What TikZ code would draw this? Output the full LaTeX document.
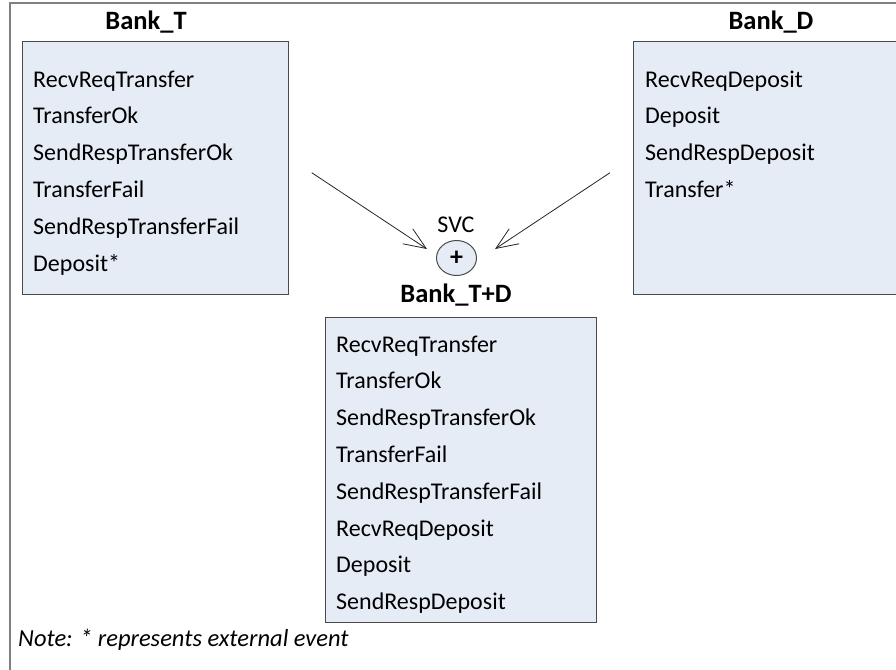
\documentclass[tikz,border=0pt]{standalone}
\usepackage{fontspec}
\setmainfont{Carlito}
\usepackage{tikz}
\usetikzlibrary{shapes.geometric,arrows.meta,positioning,calc}
\definecolor{frame}{HTML}{808080}
\definecolor{edge}{HTML}{4a4a4a}
\definecolor{boxfill}{HTML}{E6ECF6}

\begin{document}
\begin{tikzpicture}[x=1pt,y=-1pt,
    txt/.style={font=\fontsize{24}{29}\selectfont,inner sep=0pt},
    item/.style={txt,anchor=base west},
    title/.style={txt,font=\fontsize{26.5}{31}\selectfont\bfseries,anchor=base},
    panel/.style={draw=edge,fill=boxfill,line width=1pt},
    flow/.style={draw=black!85,line width=0.8pt,
                 -{Straight Barb[length=22pt,width=18pt,line width=0.8pt]}}]
    \useasboundingbox (0,0) rectangle (896,669);
    \draw[frame,line width=1.5pt] (10,3) rectangle (910,690);

    % Bank_T
    \draw[panel] (22,42) rectangle (288,294);
    \node[title] (bankT) at (146,30) {Bank\_T};
    \foreach \ev [count=\i] in {RecvReqTransfer,TransferOk,SendRespTransferOk,
                                TransferFail,SendRespTransferFail,Deposit*}
        \node[item] (t\i) at (33,{87+36.8*(\i-1)}) {\ev};

    % Bank_D
    \draw[panel] (633,42) rectangle (900,294);
    \node[title] (bankD) at (771,30) {Bank\_D};
    \foreach \ev [count=\i] in {RecvReqDeposit,Deposit,SendRespDeposit,Transfer*}
        \node[item] (d\i) at (645,{87+36.8*(\i-1)}) {\ev};

    % composition
    \node[txt,anchor=base] (svclbl) at (456,232) {SVC};
    \node[draw=edge,fill=boxfill,line width=1pt,ellipse,minimum width=40pt,
          minimum height=35pt,inner sep=0pt,font=\fontsize{26}{30}\selectfont\bfseries]
          (svc) at (456.5,258) {+};
    \coordinate (fromT) at (311.7,172.7);
    \coordinate (fromD) at (610,172.7);
    \coordinate (toT) at (427,249);
    \coordinate (toD) at (495,249);
    \draw[flow] (fromT) -- (toT);
    \draw[flow] (fromD) -- (toD);

    % Bank_T+D
    \node[title] (bankTD) at (456,302) {Bank\_T+D};
    \draw[panel] (325,317) rectangle (596,622);
    \foreach \ev [count=\i] in {RecvReqTransfer,TransferOk,SendRespTransferOk,
                                TransferFail,SendRespTransferFail,RecvReqDeposit,
                                Deposit,SendRespDeposit}
        \node[item] (c\i) at (336,{352+36.8*(\i-1)}) {\ev};

    \node[item,font=\fontsize{24.5}{29}\selectfont\itshape] (note) at (18,646)
        {Note: * represents external event};
\end{tikzpicture}
\end{document}
